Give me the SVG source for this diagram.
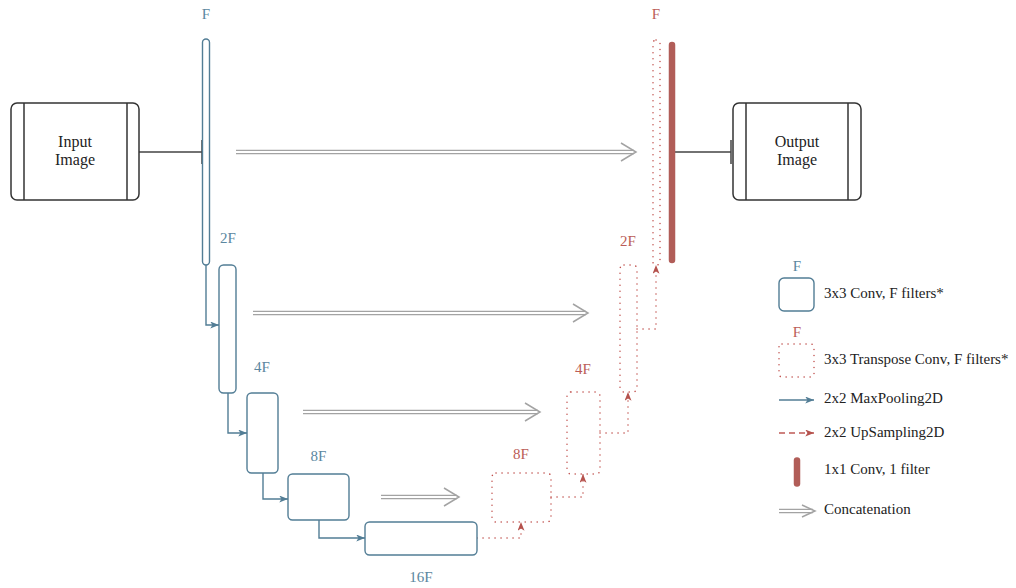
<svg xmlns="http://www.w3.org/2000/svg" width="1016" height="588" viewBox="0 0 1016 588">
  <defs>
    <style>
      text { font-family: "Liberation Serif", "DejaVu Serif", serif; }
      .box { fill: #ffffff; stroke: #333333; stroke-width: 1.5; }
      .boxline { stroke: #333333; stroke-width: 1.5; }
      .boxtext { font-size: 16px; fill: #222222; text-anchor: middle; }
      .conv { fill: #ffffff; stroke: #527d95; stroke-width: 1.4; }
      .tconv { fill: none; stroke: #c0504d; stroke-width: 1.5; stroke-dasharray: 0.1 5.9; stroke-linecap: round; }
      .blab { font-size: 15px; fill: #5b87a0; text-anchor: middle; }
      .rlab { font-size: 15px; fill: #bb5c57; text-anchor: middle; }
      .pool { fill: none; stroke: #527d95; stroke-width: 1.4; }
      .up { fill: none; stroke: #c0504d; stroke-width: 1.5; stroke-dasharray: 0.1 5.9; stroke-linecap: round; }
      .updash { fill: none; stroke: #bf5a55; stroke-width: 1.4; stroke-dasharray: 6 4; }
      .one { stroke: #b15d58; stroke-width: 6.5; stroke-linecap: round; }
      .cat-outer { fill: none; stroke: #a3a3a3; stroke-width: 4.6; }
      .cat-inner { fill: none; stroke: #ffffff; stroke-width: 1.8; }
      .cat-head { fill: none; stroke: #a3a3a3; stroke-width: 1.5; }
      .wire { fill: none; stroke: #444444; stroke-width: 1.5; }
      .legend { font-size: 15px; fill: #222222; }
    </style>
    <marker id="arrow-blue" viewBox="0 0 10 8" markerUnits="userSpaceOnUse" markerWidth="9" markerHeight="7" refX="10" refY="4" orient="auto">
      <path d="M0,0 L10,4 L0,8 L2.5,4 z" fill="#527d95"/>
    </marker>
    <marker id="arrow-red" viewBox="0 0 10 8" markerUnits="userSpaceOnUse" markerWidth="9" markerHeight="7" refX="10" refY="4" orient="auto">
      <path d="M0,0 L10,4 L0,8 L2.5,4 z" fill="#b5524d"/>
    </marker>
  </defs>

  <rect width="1016" height="588" fill="#ffffff"/>

  <!-- connectors -->
  <g id="connectors">
    <!-- image in / out -->
    <path class="wire" d="M139,152 H202 M202,140 V164"/>
    <path class="wire" d="M675,152 H731 M731,140 V164"/>

    <!-- max pooling (encoder) -->
    <path class="pool" d="M206,265 V325 H219" marker-end="url(#arrow-blue)"/>
    <path class="pool" d="M228,393 V433 H247" marker-end="url(#arrow-blue)"/>
    <path class="pool" d="M263,473 V499 H288" marker-end="url(#arrow-blue)"/>
    <path class="pool" d="M319,520 V538 H365" marker-end="url(#arrow-blue)"/>

    <!-- up sampling (decoder) -->
    <path class="up" d="M477,538 H521 V522" marker-end="url(#arrow-red)"/>
    <path class="up" d="M551,497 H583 V474" marker-end="url(#arrow-red)"/>
    <path class="up" d="M600,433 H628 V392" marker-end="url(#arrow-red)"/>
    <path class="up" d="M637,329 H656 V265" marker-end="url(#arrow-red)"/>

    <!-- skip concatenations -->
    <g id="cat1">
      <path class="cat-outer" d="M236,152 H634"/>
      <path class="cat-inner" d="M236,152 H634"/>
      <path class="cat-head" d="M621,143 L636,152 L621,161"/>
    </g>
    <g id="cat2">
      <path class="cat-outer" d="M253,313 H586"/>
      <path class="cat-inner" d="M253,313 H586"/>
      <path class="cat-head" d="M573,304 L588,313 L573,322"/>
    </g>
    <g id="cat3">
      <path class="cat-outer" d="M303,412 H538"/>
      <path class="cat-inner" d="M303,412 H538"/>
      <path class="cat-head" d="M525,403 L540,412 L525,421"/>
    </g>
    <g id="cat4">
      <path class="cat-outer" d="M381,497 H457"/>
      <path class="cat-inner" d="M381,497 H457"/>
      <path class="cat-head" d="M444,488 L459,497 L444,506"/>
    </g>
  </g>

  <!-- input image -->
  <g id="input-image">
    <rect class="box" x="11" y="103" width="128" height="97" rx="6"/>
    <line class="boxline" x1="24" y1="103" x2="24" y2="200"/>
    <line class="boxline" x1="127" y1="103" x2="127" y2="200"/>
    <text class="boxtext" x="75" y="147">Input</text>
    <text class="boxtext" x="75" y="165">Image</text>
  </g>

  <!-- output image -->
  <g id="output-image">
    <rect class="box" x="733" y="103" width="128" height="97" rx="6"/>
    <line class="boxline" x1="746" y1="103" x2="746" y2="200"/>
    <line class="boxline" x1="848" y1="103" x2="848" y2="200"/>
    <text class="boxtext" x="797" y="147">Output</text>
    <text class="boxtext" x="797" y="165">Image</text>
  </g>

  <!-- encoder convolutions -->
  <g id="conv-f">
    <rect class="conv" x="202.5" y="39" width="7" height="226" rx="3.5"/>
    <text class="blab" x="206" y="19">F</text>
  </g>
  <g id="conv-2f">
    <rect class="conv" x="219" y="265" width="17" height="128" rx="4.5"/>
    <text class="blab" x="228" y="243">2F</text>
  </g>
  <g id="conv-4f">
    <rect class="conv" x="247" y="393" width="31" height="80" rx="4.5"/>
    <text class="blab" x="262" y="372">4F</text>
  </g>
  <g id="conv-8f">
    <rect class="conv" x="288" y="474" width="61" height="46" rx="4.5"/>
    <text class="blab" x="318.5" y="461">8F</text>
  </g>
  <g id="conv-16f">
    <rect class="conv" x="365" y="522" width="112" height="33" rx="4.5"/>
    <text class="blab" x="421" y="582">16F</text>
  </g>

  <!-- decoder transpose convolutions -->
  <g id="tconv-8f">
    <rect class="tconv" x="492" y="473" width="59" height="49" rx="4"/>
    <text class="rlab" x="521" y="459">8F</text>
  </g>
  <g id="tconv-4f">
    <rect class="tconv" x="567" y="392" width="33" height="82" rx="4"/>
    <text class="rlab" x="583" y="374">4F</text>
  </g>
  <g id="tconv-2f">
    <rect class="tconv" x="620" y="265" width="17" height="127" rx="4"/>
    <text class="rlab" x="628" y="246">2F</text>
  </g>
  <g id="tconv-f">
    <rect class="tconv" x="653" y="40" width="7" height="225" rx="3"/>
    <text class="rlab" x="656" y="19">F</text>
  </g>

  <!-- final 1x1 convolution -->
  <g id="conv-1x1">
    <line class="one" x1="672" y1="45" x2="672" y2="260"/>
  </g>

  <!-- legend -->
  <g id="legend">
    <g id="legend-conv">
      <text class="blab" x="797" y="271">F</text>
      <rect class="conv" x="779" y="278" width="35" height="33" rx="5"/>
      <text class="legend" x="824" y="298">3x3 Conv, F filters*</text>
    </g>
    <g id="legend-tconv">
      <text class="rlab" x="797" y="337">F</text>
      <rect class="tconv" x="779" y="344" width="35" height="33" rx="3"/>
      <text class="legend" x="824" y="364">3x3 Transpose Conv, F filters*</text>
    </g>
    <g id="legend-pool">
      <path class="pool" d="M779,400 H814" marker-end="url(#arrow-blue)"/>
      <text class="legend" x="824" y="403">2x2 MaxPooling2D</text>
    </g>
    <g id="legend-up">
      <path class="updash" d="M779,433 H814" marker-end="url(#arrow-red)"/>
      <text class="legend" x="824" y="437">2x2 UpSampling2D</text>
    </g>
    <g id="legend-1x1">
      <line class="one" x1="797" y1="460.5" x2="797" y2="483.5"/>
      <text class="legend" x="824" y="474">1x1 Conv, 1 filter</text>
    </g>
    <g id="legend-cat">
      <path class="cat-outer" d="M779,511 H813"/>
      <path class="cat-inner" d="M779,511 H813"/>
      <path class="cat-head" d="M802,505 L815,511 L802,517"/>
      <text class="legend" x="824" y="514">Concatenation</text>
    </g>
  </g>
</svg>
